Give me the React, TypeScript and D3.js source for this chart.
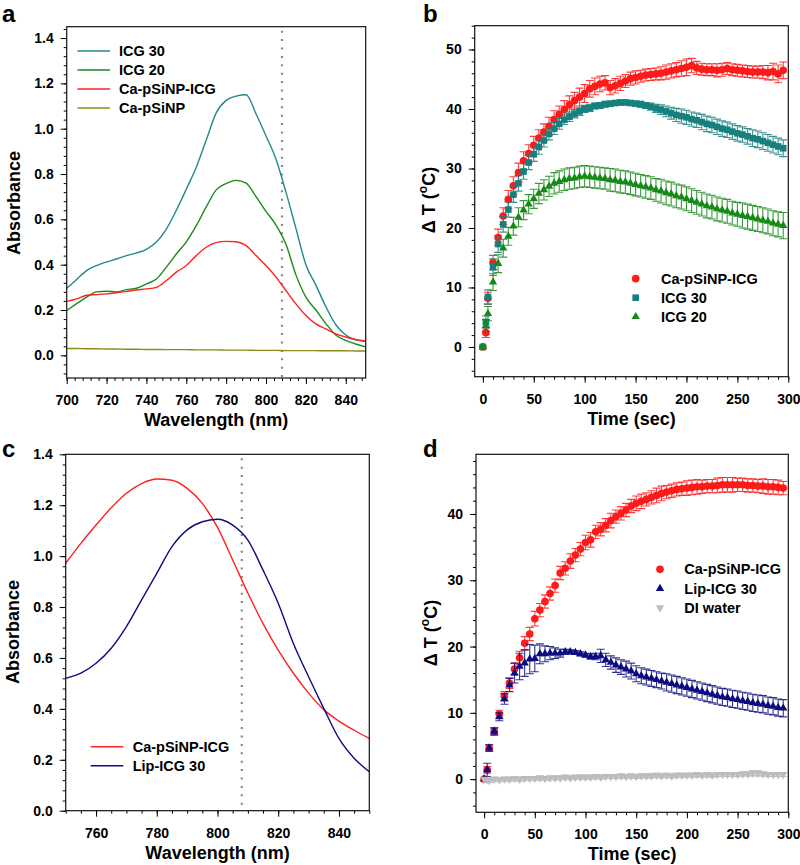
import { useEffect, useRef } from "react";
import * as d3 from "d3";

// ---------- panel a : absorbance spectra (700-850 nm)
const wavelengthA = [700, 705, 710, 715, 720, 725, 730, 735, 740, 745, 750, 755, 760, 765, 770, 775, 780, 785, 790, 795, 800, 805, 810, 815, 820, 825, 830, 835, 840, 845, 850];
const absIcg30 = [0.296, 0.335, 0.374, 0.396, 0.412, 0.425, 0.44, 0.452, 0.468, 0.5, 0.557, 0.64, 0.733, 0.83, 0.95, 1.07, 1.125, 1.144, 1.15, 1.065, 0.968, 0.865, 0.72, 0.56, 0.4, 0.31, 0.215, 0.135, 0.09, 0.068, 0.062];
const absIcg20 = [0.198, 0.228, 0.257, 0.28, 0.283, 0.28, 0.29, 0.296, 0.315, 0.337, 0.389, 0.447, 0.501, 0.572, 0.655, 0.73, 0.758, 0.772, 0.76, 0.7, 0.635, 0.575, 0.49, 0.355, 0.257, 0.2, 0.14, 0.09, 0.066, 0.05, 0.037];
const absCaIcg = [0.238, 0.249, 0.265, 0.268, 0.271, 0.276, 0.282, 0.288, 0.293, 0.3, 0.33, 0.367, 0.396, 0.44, 0.477, 0.497, 0.503, 0.501, 0.484, 0.44, 0.396, 0.345, 0.286, 0.227, 0.176, 0.139, 0.117, 0.095, 0.081, 0.07, 0.063];
const absCa = [0.03, 0.03, 0.029, 0.029, 0.028, 0.028, 0.027, 0.027, 0.026, 0.026, 0.025, 0.025, 0.025, 0.024, 0.024, 0.024, 0.023, 0.023, 0.023, 0.022, 0.022, 0.022, 0.021, 0.021, 0.021, 0.021, 0.02, 0.02, 0.02, 0.019, 0.019];

// ---------- panel c : absorbance spectra (750-850 nm)
const wavelengthC = [750, 755, 760, 765, 770, 775, 780, 785, 790, 795, 800, 805, 810, 815, 820, 825, 830, 835, 840, 845, 850];
const absCaIcgC = [0.972, 1.05, 1.122, 1.19, 1.247, 1.285, 1.303, 1.298, 1.266, 1.207, 1.113, 0.985, 0.855, 0.735, 0.631, 0.54, 0.462, 0.397, 0.352, 0.316, 0.284];
const absLipIcg = [0.52, 0.54, 0.579, 0.638, 0.723, 0.828, 0.932, 1.037, 1.103, 1.135, 1.145, 1.122, 1.063, 0.945, 0.815, 0.657, 0.526, 0.402, 0.284, 0.206, 0.153];

// ---------- panels b, d : temperature rise
const timeSec = [0, 3, 5, 10, 15, 20, 25, 30, 35, 40,
  45, 50, 55, 60, 65, 70, 75, 80, 85, 90,
  95, 100, 105, 110, 115, 120, 125, 130, 135, 140,
  145, 150, 155, 160, 165, 170, 175, 180, 185, 190,
  195, 200, 205, 210, 215, 220, 225, 230, 235, 240,
  245, 250, 255, 260, 265, 270, 275, 280, 285, 290,
  295];

const dtCaIcgB = [0, 2.4, 8.2, 14.2, 18.4, 22.0, 24.8, 27.1, 29.3, 31.3,
  32.5, 33.9, 35.1, 36.1, 37.1, 38.2, 39.1, 39.9, 40.7, 41.4,
  42.0, 42.6, 43.4, 43.8, 44.2, 44.4, 43.6, 43.9, 44.3, 44.7,
  45.1, 45.3, 45.5, 45.7, 45.8, 45.9, 46.0, 46.2, 46.4, 46.6,
  46.8, 47.0, 47.3, 46.9, 46.7, 46.6, 46.6, 46.5, 46.6, 46.8,
  46.6, 46.5, 46.4, 46.3, 46.2, 46.2, 46.2, 46.1, 46.3, 45.9,
  46.5];
const errCaIcgB = [0, 0.8, 1.0, 1.2, 1.4, 1.4, 1.5, 1.5, 1.6, 1.5,
  1.5, 1.5, 1.4, 1.4, 1.5, 1.5, 1.4, 1.5, 1.5, 1.4,
  1.5, 1.5, 1.4, 1.4, 1.3, 1.2, 1.2, 1.2, 1.2, 1.1,
  1.1, 1.1, 1.0, 1.0, 1.0, 1.0, 1.1, 1.2, 1.2, 1.2,
  1.3, 1.4, 1.2, 1.1, 1.0, 1.0, 1.0, 1.1, 1.1, 1.0,
  1.0, 1.0, 1.0, 1.0, 1.0, 1.0, 1.1, 1.2, 1.4, 1.5,
  1.4];

const dtIcg30 = [0, 4.2, 8.4, 13.4, 17.3, 20.6, 23.1, 25.6, 27.5, 29.5,
  31.0, 32.4, 33.6, 34.7, 35.8, 36.7, 37.5, 38.2, 38.7, 39.2,
  39.6, 40.0, 40.2, 40.5, 40.6, 40.8, 40.9, 41.0, 41.1, 41.1,
  41.0, 40.9, 40.8, 40.6, 40.4, 40.1, 39.9, 39.6, 39.3, 39.0,
  38.8, 38.6, 38.3, 38.1, 37.8, 37.5, 37.3, 37.0, 36.7, 36.5,
  36.2, 35.9, 35.7, 35.4, 35.1, 34.9, 34.6, 34.3, 34.0, 33.7,
  33.4];
const errIcg30 = [0, 1.0, 1.2, 1.4, 1.4, 1.3, 1.3, 1.3, 1.3, 1.3,
  1.2, 1.2, 1.2, 1.1, 1.0, 1.0, 0.9, 0.8, 0.8, 0.7,
  0.7, 0.6, 0.6, 0.5, 0.5, 0.5, 0.4, 0.4, 0.4, 0.4,
  0.4, 0.4, 0.5, 0.5, 0.6, 0.7, 0.8, 0.9, 1.0, 1.1,
  1.2, 1.2, 1.2, 1.2, 1.3, 1.3, 1.3, 1.3, 1.3, 1.3,
  1.3, 1.3, 1.3, 1.3, 1.4, 1.4, 1.4, 1.4, 1.4, 1.4,
  1.4];

const dtIcg20 = [0, 3.6, 5.6, 10.9, 14.0, 16.6, 18.6, 20.3, 21.8, 23.0,
  24.0, 24.9, 25.8, 26.4, 27.0, 27.5, 27.8, 28.1, 28.3, 28.4,
  28.6, 28.7, 28.6, 28.5, 28.4, 28.3, 28.1, 28.0, 27.8, 27.7,
  27.5, 27.3, 27.1, 26.9, 26.7, 26.4, 26.2, 25.9, 25.7, 25.4,
  25.2, 24.9, 24.6, 24.3, 24.0, 23.7, 23.5, 23.2, 23.0, 22.8,
  22.5, 22.3, 22.1, 21.9, 21.7, 21.5, 21.3, 21.1, 20.8, 20.6,
  20.4];
const errIcg20 = [0, 1.0, 1.2, 1.4, 1.5, 1.5, 1.5, 1.5, 1.6, 1.6,
  1.6, 1.6, 1.7, 1.7, 1.7, 1.8, 1.8, 1.8, 1.8, 1.8,
  1.8, 1.8, 1.8, 1.8, 1.8, 1.8, 1.9, 1.9, 1.9, 1.9,
  1.9, 1.9, 1.9, 1.9, 1.9, 1.9, 2.0, 2.0, 2.0, 2.0,
  2.0, 2.0, 2.0, 2.0, 2.0, 2.0, 2.0, 2.0, 2.0, 2.0,
  2.0, 2.0, 2.1, 2.1, 2.1, 2.1, 2.1, 2.1, 2.1, 2.1,
  2.2];

const dtCaIcgD = [0, 1.4, 4.7, 7.2, 9.8, 12.5, 14.5, 16.6, 18.3, 20.5,
  21.9, 24.2, 25.5, 26.8, 28.0, 29.2, 31.1, 31.8, 32.9, 33.8,
  34.7, 35.7, 36.1, 37.3, 37.7, 38.3, 39.0, 39.6, 40.1, 40.6,
  41.2, 41.6, 41.9, 42.2, 42.5, 42.8, 43.1, 43.3, 43.5, 43.7,
  43.8, 43.9, 44.0, 44.1, 44.1, 44.2, 44.2, 44.3, 44.4, 44.4,
  44.4, 44.4, 44.4, 44.3, 44.3, 44.2, 44.2, 44.1, 44.1, 44.0,
  43.9];
const errCaIcgD = [0, 0.5, 0.5, 0.6, 0.6, 0.7, 0.8, 0.9, 1.0, 1.0,
  1.0, 1.1, 1.0, 1.0, 1.0, 1.0, 1.0, 1.0, 1.1, 1.0,
  1.0, 1.1, 1.1, 1.0, 1.0, 1.0, 1.1, 1.0, 1.0, 1.0,
  1.0, 1.1, 1.1, 1.0, 1.0, 1.1, 1.1, 1.0, 1.0, 1.0,
  1.0, 1.1, 1.1, 1.1, 1.0, 1.0, 1.0, 1.1, 1.1, 1.1,
  1.1, 1.0, 1.0, 1.0, 1.0, 1.0, 1.1, 1.1, 1.1, 1.1,
  1.0];

const dtLipIcg = [0, 1.4, 4.7, 7.2, 9.4, 12.1, 14.2, 16.0, 17.0, 17.5,
  18.1, 18.2, 18.9, 18.9, 19.0, 19.0, 19.0, 19.2, 19.2, 19.1,
  18.9, 18.7, 18.5, 18.5, 18.6, 18.0, 17.6, 17.2, 16.9, 16.6,
  16.3, 15.9, 15.6, 15.4, 15.2, 15.0, 14.8, 14.6, 14.4, 14.2,
  14.0, 13.8, 13.6, 13.4, 13.2, 13.0, 12.8, 12.6, 12.4, 12.3,
  12.1, 12.0, 11.8, 11.7, 11.5, 11.4, 11.3, 11.1, 11.0, 10.8,
  10.7];
const errLipIcg = [0, 1.0, 0.5, 0.5, 0.6, 0.8, 1.0, 1.5, 2.0, 2.0,
  2.2, 2.0, 1.5, 1.2, 1.0, 0.8, 0.6, 0.4, 0.3, 0.3,
  0.3, 0.3, 0.4, 0.5, 1.0, 1.0, 1.0, 1.1, 1.1, 1.2,
  1.2, 1.2, 1.2, 1.2, 1.2, 1.2, 1.2, 1.3, 1.3, 1.3,
  1.3, 1.3, 1.3, 1.3, 1.3, 1.3, 1.3, 1.3, 1.3, 1.3,
  1.3, 1.3, 1.3, 1.3, 1.3, 1.3, 1.3, 1.3, 1.3, 1.3,
  1.3];

const dtWater = [0, -0.1, -0.2, 0, -0.1, 0, 0, 0.1, 0, 0.1,
  0.1, 0.1, 0.2, 0.1, 0.2, 0.2, 0.2, 0.3, 0.2, 0.3,
  0.3, 0.3, 0.3, 0.4, 0.3, 0.4, 0.4, 0.4, 0.5, 0.4,
  0.5, 0.4, 0.5, 0.5, 0.5, 0.6, 0.5, 0.6, 0.5, 0.6,
  0.6, 0.6, 0.6, 0.7, 0.6, 0.7, 0.6, 0.7, 0.7, 0.7,
  0.7, 0.7, 0.8, 0.8, 0.9, 0.9, 0.8, 0.7, 0.7, 0.7,
  0.7];
const errWater = [0, 0.2, 0.3, 0.3, 0.3, 0.3, 0.3, 0.3, 0.3, 0.3,
  0.3, 0.3, 0.3, 0.3, 0.3, 0.3, 0.3, 0.3, 0.3, 0.3,
  0.3, 0.3, 0.3, 0.3, 0.3, 0.3, 0.3, 0.3, 0.3, 0.3,
  0.3, 0.3, 0.3, 0.3, 0.3, 0.3, 0.3, 0.3, 0.3, 0.3,
  0.3, 0.3, 0.3, 0.3, 0.3, 0.3, 0.3, 0.3, 0.3, 0.3,
  0.3, 0.3, 0.3, 0.3, 0.4, 0.4, 0.3, 0.3, 0.3, 0.3,
  0.3];

const FONT = "'Liberation Sans', Arial, Helvetica, sans-serif";

const RED = "#ff1a1a";
const TEAL = "#16807f";
const GREEN = "#168a16";
const OLIVE = "#8c8c16";
const NAVY = "#0c0c80";
const GRAY = "#bcbcbc";

const styleAxis = (g) => {
  g.select(".domain").remove();
  g.selectAll("line").attr("stroke", "#000").attr("stroke-width", 1);
  g.selectAll("text")
    .attr("font-family", FONT)
    .attr("font-size", 14)
    .attr("font-weight", "bold")
    .attr("fill", "#000");
};

const drawAxes = (svg, box, x, y, xMajor, xMinor, yMajor, yMinor, xFmt, yFmt) => {
  svg.append("g").attr("transform", `translate(0,${box.b})`)
    .call(d3.axisBottom(x).tickValues(xMinor).tickSize(3).tickFormat(() => ""))
    .call(styleAxis);
  svg.append("g").attr("transform", `translate(0,${box.b})`)
    .call(d3.axisBottom(x).tickValues(xMajor).tickSize(6).tickPadding(11).tickFormat(xFmt))
    .call(styleAxis);
  svg.append("g").attr("transform", `translate(${box.l},0)`)
    .call(d3.axisLeft(y).tickValues(yMinor).tickSize(3).tickFormat(() => ""))
    .call(styleAxis);
  svg.append("g").attr("transform", `translate(${box.l},0)`)
    .call(d3.axisLeft(y).tickValues(yMajor).tickSize(6).tickPadding(7).tickFormat(yFmt))
    .call(styleAxis);
  svg.append("rect")
    .attr("x", box.l).attr("y", box.t)
    .attr("width", box.r - box.l).attr("height", box.b - box.t)
    .attr("fill", "none").attr("stroke", "#111").attr("stroke-width", 1.2);
};

const boldText = (sel, size) => sel
  .attr("font-family", FONT).attr("font-weight", "bold").attr("font-size", size).attr("fill", "#000");

const xTitle = (svg, box, label) => {
  svg.append("text")
    .attr("x", (box.l + box.r) / 2).attr("y", box.b + 48)
    .attr("text-anchor", "middle")
    .call(boldText, 18)
    .text(label);
};

const yTitleAbs = (svg, xPos, yPos) => {
  svg.append("text")
    .attr("transform", `translate(${xPos},${yPos}) rotate(-90)`)
    .attr("text-anchor", "middle")
    .call(boldText, 18)
    .text("Absorbance");
};

const yTitleDT = (svg, xPos, yPos) => {
  const t = svg.append("text")
    .attr("transform", `translate(${xPos},${yPos}) rotate(-90)`)
    .attr("text-anchor", "middle")
    .call(boldText, 18);
  t.append("tspan").text("\u0394 T (");
  t.append("tspan").attr("font-size", 12).attr("dy", -8).text("o");
  t.append("tspan").attr("dy", 8).text("C)");
};

const panelLetter = (svg, xPos, yPos, letter) => {
  svg.append("text").attr("x", xPos).attr("y", yPos).call(boldText, 24).text(letter);
};

const dottedMarker = (svg, box, x, nm) => {
  svg.append("line")
    .attr("x1", x(nm)).attr("x2", x(nm))
    .attr("y1", box.t + 4).attr("y2", box.b)
    .attr("stroke", "#8a8a8a").attr("stroke-width", 2.2)
    .attr("stroke-dasharray", "2,6.4");
};

const drawSpectrum = (svg, x, y, wl, vals, color) => {
  const line = d3.line().x((d) => x(d[0])).y((d) => y(d[1])).curve(d3.curveMonotoneX);
  svg.append("path")
    .datum(wl.map((w, i) => [w, vals[i]]))
    .attr("d", line)
    .attr("fill", "none").attr("stroke", color).attr("stroke-width", 1.4);
};

const drawSeries = (svg, x, y, vals, errs, color, symbolType, size, rotate = 0) => {
  const pts = timeSec.map((t, i) => ({ t, v: vals[i], e: errs[i] }));
  const g = svg.append("g");
  g.selectAll("path.eb")
    .data(pts.filter((d) => d.e > 0))
    .join("path")
    .attr("class", "eb")
    .attr("d", (d) => {
      const cx = x(d.t), y1 = y(d.v + d.e), y2 = y(d.v - d.e);
      return `M${cx},${y1}V${y2}M${cx - 4},${y1}H${cx + 4}M${cx - 4},${y2}H${cx + 4}`;
    })
    .attr("fill", "none").attr("stroke", color).attr("stroke-width", 1.1).attr("stroke-opacity", 0.85);
  g.selectAll("path.mk")
    .data(pts)
    .join("path")
    .attr("class", "mk")
    .attr("transform", (d) => `translate(${x(d.t)},${y(d.v)}) rotate(${rotate})`)
    .attr("d", d3.symbol(symbolType, size)())
    .attr("fill", color);
};

const drawChart = (node) => {
  const svg = d3.select(node);
  svg.selectAll("*").remove();

  // ----- a
  const boxA = { l: 66.7, r: 365.7, t: 26.7, b: 378 };
  const xA = d3.scaleLinear().domain([700, 850]).range([boxA.l, boxA.r]);
  const yA = d3.scaleLinear().domain([-0.1, 1.45]).range([boxA.b, boxA.t]);
  dottedMarker(svg, boxA, xA, 808);
  drawSpectrum(svg, xA, yA, wavelengthA, absCa, OLIVE);
  drawSpectrum(svg, xA, yA, wavelengthA, absIcg30, "#21898b");
  drawSpectrum(svg, xA, yA, wavelengthA, absIcg20, "#1c8a1c");
  drawSpectrum(svg, xA, yA, wavelengthA, absCaIcg, "#ff2020");
  drawAxes(svg, boxA, xA, yA,
    d3.range(700, 841, 20), d3.range(700, 851, 4),
    d3.range(0, 8).map((i) => i * 0.2), d3.range(-2, 37).map((i) => i * 0.04),
    d3.format("d"), d3.format(".1f"));
  const legA = [["ICG 30", "#21898b"], ["ICG 20", "#1c8a1c"], ["Ca-pSiNP-ICG", "#ff2020"], ["Ca-pSiNP", OLIVE]];
  legA.forEach(([name, color], i) => {
    const yy = 51 + i * 19;
    svg.append("line").attr("x1", 77.5).attr("x2", 110).attr("y1", yy).attr("y2", yy)
      .attr("stroke", color).attr("stroke-width", 1.6);
    svg.append("text").attr("x", 119).attr("y", yy + 5).call(boldText, 14.5).text(name);
  });
  yTitleAbs(svg, 20, 203);
  xTitle(svg, boxA, "Wavelength (nm)");
  panelLetter(svg, 2, 21.5, "a");

  // ----- b
  const boxB = { l: 474.7, r: 788.3, t: 25.7, b: 376.7 };
  const xB = d3.scaleLinear().domain([-8, 300]).range([boxB.l, boxB.r]);
  const yB = d3.scaleLinear().domain([-5, 54]).range([boxB.b, boxB.t]);
  drawSeries(svg, xB, yB, dtCaIcgB, errCaIcgB, RED, d3.symbolCircle, 46);
  drawSeries(svg, xB, yB, dtIcg30, errIcg30, TEAL, d3.symbolSquare, 44);
  drawSeries(svg, xB, yB, dtIcg20, errIcg20, GREEN, d3.symbolTriangle, 30);
  drawAxes(svg, boxB, xB, yB,
    d3.range(0, 301, 50), d3.range(0, 301, 10),
    d3.range(0, 51, 10), d3.range(-4, 55, 2),
    d3.format("d"), d3.format("d"));
  const legB = [["Ca-pSiNP-ICG", RED, d3.symbolCircle, 46], ["ICG 30", TEAL, d3.symbolSquare, 44], ["ICG 20", GREEN, d3.symbolTriangle, 30]];
  legB.forEach(([name, color, sym, size], i) => {
    const yy = 278.7 + i * 19;
    svg.append("path").attr("transform", `translate(635.7,${yy})`).attr("d", d3.symbol(sym, size)()).attr("fill", color);
    svg.append("text").attr("x", 661).attr("y", yy + 5).call(boldText, 14.5).text(name);
  });
  yTitleDT(svg, 435, 200);
  xTitle(svg, boxB, "Time (sec)");
  panelLetter(svg, 423, 21.5, "b");

  // ----- c
  const boxC = { l: 65.7, r: 369.3, t: 454.3, b: 810.7 };
  const xC = d3.scaleLinear().domain([750, 850]).range([boxC.l, boxC.r]);
  const yC = d3.scaleLinear().domain([0, 1.4]).range([boxC.b, boxC.t]);
  dottedMarker(svg, boxC, xC, 808);
  drawSpectrum(svg, xC, yC, wavelengthC, absCaIcgC, "#ff2020");
  drawSpectrum(svg, xC, yC, wavelengthC, absLipIcg, NAVY);
  drawAxes(svg, boxC, xC, yC,
    d3.range(760, 841, 20), d3.range(750, 851, 5),
    d3.range(0, 8).map((i) => i * 0.2), d3.range(0, 36).map((i) => i * 0.04),
    d3.format("d"), d3.format(".1f"));
  const legC = [["Ca-pSiNP-ICG", "#ff2020"], ["Lip-ICG 30", NAVY]];
  legC.forEach(([name, color], i) => {
    const yy = 746.7 + i * 19;
    svg.append("line").attr("x1", 90.7).attr("x2", 123.3).attr("y1", yy).attr("y2", yy)
      .attr("stroke", color).attr("stroke-width", 1.6);
    svg.append("text").attr("x", 132.7).attr("y", yy + 5).call(boldText, 14.5).text(name);
  });
  yTitleAbs(svg, 18.5, 632);
  xTitle(svg, boxC, "Wavelength (nm)");
  panelLetter(svg, 2, 456.5, "c");

  // ----- d
  const boxD = { l: 476, r: 788.3, t: 454.3, b: 812.3 };
  const xD = d3.scaleLinear().domain([-8, 300]).range([boxD.l, boxD.r]);
  const yD = d3.scaleLinear().domain([-5, 49]).range([boxD.b, boxD.t]);
  drawSeries(svg, xD, yD, dtCaIcgD, errCaIcgD, RED, d3.symbolCircle, 46);
  drawSeries(svg, xD, yD, dtLipIcg, errLipIcg, NAVY, d3.symbolTriangle, 30);
  drawSeries(svg, xD, yD, dtWater, errWater, GRAY, d3.symbolTriangle, 30, 180);
  drawAxes(svg, boxD, xD, yD,
    d3.range(0, 301, 50), d3.range(0, 301, 10),
    d3.range(0, 41, 10), d3.range(-4, 49, 2),
    d3.format("d"), d3.format("d"));
  const legD = [["Ca-pSiNP-ICG", RED, d3.symbolCircle, 46, 0], ["Lip-ICG 30", NAVY, d3.symbolTriangle, 30, 0], ["DI water", GRAY, d3.symbolTriangle, 30, 180]];
  legD.forEach(([name, color, sym, size, rot], i) => {
    const yy = 569.3 + i * 19.2;
    svg.append("path").attr("transform", `translate(660,${yy}) rotate(${rot})`).attr("d", d3.symbol(sym, size)()).attr("fill", color);
    svg.append("text").attr("x", 684.3).attr("y", yy + 5).call(boldText, 14.5).text(name);
  });
  yTitleDT(svg, 437, 633);
  xTitle(svg, boxD, "Time (sec)");
  panelLetter(svg, 423, 456.5, "d");
};

export default function App() {
  const ref = useRef(null);
  useEffect(() => {
    drawChart(ref.current);
  }, []);
  return (
    <svg
      ref={ref}
      width={800}
      height={865}
      style={{ position: "absolute", left: 0, top: 0, background: "#fff" }}
    />
  );
}
